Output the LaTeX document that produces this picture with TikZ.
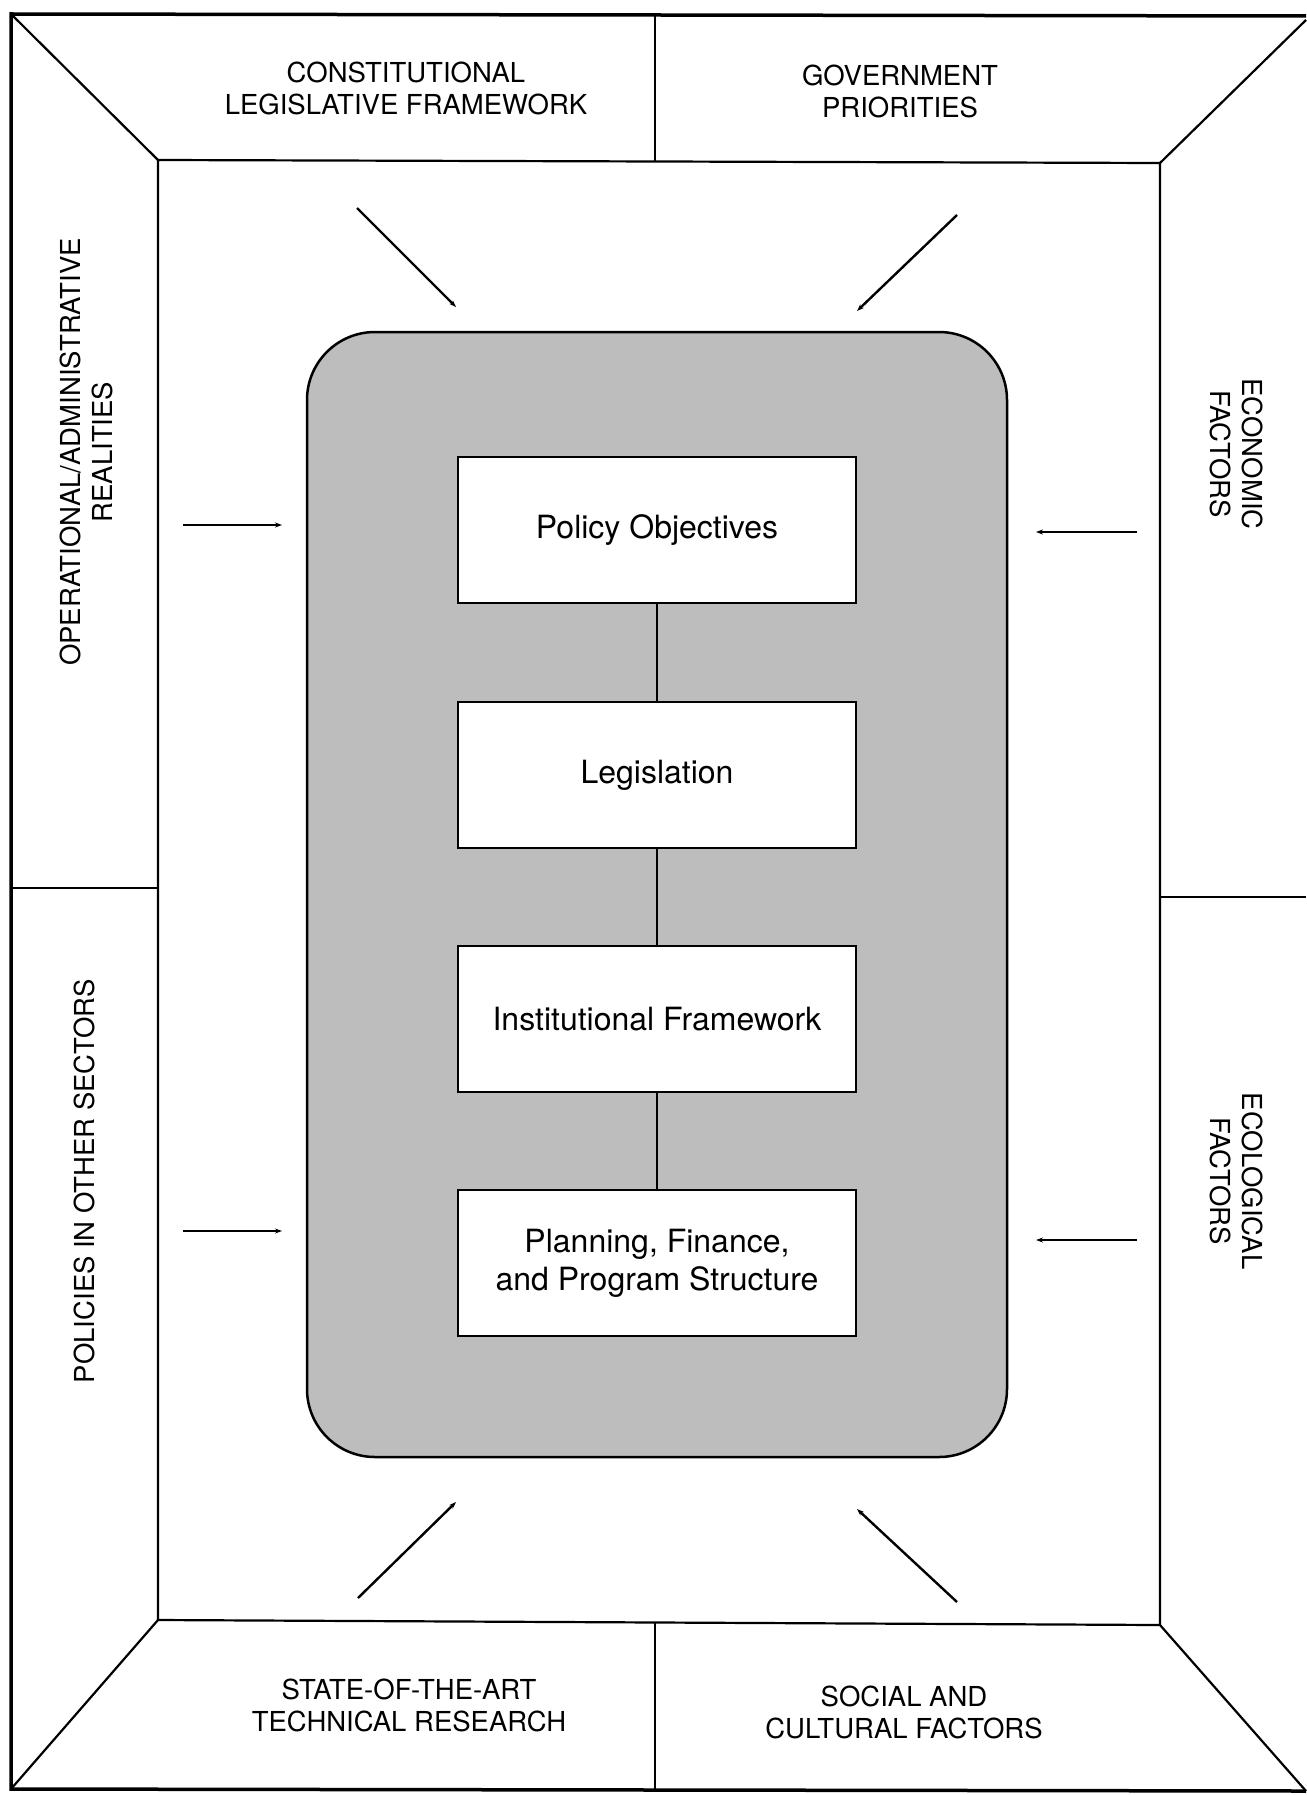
\documentclass[tikz,border=0pt]{standalone}
\usepackage{fontspec}
\setmainfont{TeX Gyre Heros}
\usetikzlibrary{arrows.meta}
\tikzset{
  frameline/.style={line width=2.2pt, line join=miter},
  outerline/.style={line width=3.5pt},
  panellabel/.style={align=center, font=\fontsize{27.5}{32}\selectfont, inner sep=0pt},
  stagebox/.style={draw, line width=2.5pt, fill=white, minimum width=398pt, minimum height=146pt,
                   align=center, font=\fontsize{32}{38}\selectfont, inner sep=0pt},
  joinline/.style={line width=2pt},
  inarrow/.style={line width=2.4pt, -{Stealth[length=7pt,width=5pt]}},
  shade/.style={draw, line width=2.5pt, fill=black!26, rounded corners=68pt}
}
\begin{document}
\begin{tikzpicture}[x=1pt, y=-1pt]
\useasboundingbox (0,0) rectangle (1306,1795);
\fill[white] (0,0) rectangle (1306,1795);

% outer frame (right side runs off the sheet)
\draw[outerline] (1306,16) -- (11,14) -- (11,1789) -- (1306,1791);

% inner rectangle
\coordinate (iTL) at (158,160);
\coordinate (iTR) at (1160,163);
\coordinate (iBL) at (158,1620);
\coordinate (iBR) at (1160,1625);
\draw[frameline] (iTL) -- (iTR) -- (iBR) -- (iBL) -- cycle;

% corner diagonals
\draw[frameline] (11,14) -- (iTL);
\draw[frameline] (1306,20) -- (iTR);
\draw[frameline] (11,1789) -- (iBL);
\draw[frameline] (1306,1791) -- (iBR);

% panel dividers
\draw[frameline] (655,15) -- (655,161);
\draw[frameline] (655,1623) -- (655,1790);
\draw[frameline] (11,888) -- (158,888);
\draw[frameline] (1160,897) -- (1306,897);

% panel labels
\node[panellabel] (constit) at (406,88) {CONSTITUTIONAL\\LEGISLATIVE FRAMEWORK};
\node[panellabel] (govt) at (900,91) {GOVERNMENT\\PRIORITIES};
\node[panellabel, rotate=90] (oper) at (86,452) {OPERATIONAL/ADMINISTRATIVE\\REALITIES};
\node[panellabel, rotate=90] (policies) at (84,1181) {POLICIES IN OTHER SECTORS};
\node[panellabel, rotate=-90] (econ) at (1237,454) {ECONOMIC\\FACTORS};
\node[panellabel, rotate=-90] (ecol) at (1237,1181) {ECOLOGICAL\\FACTORS};
\node[panellabel] (state) at (409,1705) {STATE-OF-THE-ART\\TECHNICAL RESEARCH};
\node[panellabel] (social) at (904,1712) {SOCIAL AND\\CULTURAL FACTORS};

% shaded core
\draw[shade] (307,332) rectangle (1007,1457);

% stage boxes
\node[stagebox] (policy) at (657,530) {\raisebox{-4pt}{Policy Objectives}};
\node[stagebox] (legis) at (657,775) {\raisebox{-4pt}{Legislation}};
\node[stagebox] (inst) at (657,1019) {Institutional Framework};
\node[stagebox] (plan) at (657,1263) {Planning, Finance,\\and Program Structure};

\draw[joinline] (policy) -- (legis);
\draw[joinline] (legis) -- (inst);
\draw[joinline] (inst) -- (plan);

% influence arrows
\coordinate (a1s) at (357,208);  \coordinate (a1e) at (456,307);
\coordinate (a2s) at (957,215);  \coordinate (a2e) at (857,311);
\coordinate (a3s) at (183,525);  \coordinate (a3e) at (282,525);
\coordinate (a4s) at (1137,532); \coordinate (a4e) at (1036,532);
\coordinate (a5s) at (183,1231); \coordinate (a5e) at (282,1231);
\coordinate (a6s) at (1137,1240);\coordinate (a6e) at (1036,1240);
\coordinate (a7s) at (358,1598); \coordinate (a7e) at (456,1502);
\coordinate (a8s) at (957,1602); \coordinate (a8e) at (857,1509);
\draw[inarrow] (a1s) -- (a1e);
\draw[inarrow] (a2s) -- (a2e);
\draw[inarrow] (a3s) -- (a3e);
\draw[inarrow] (a4s) -- (a4e);
\draw[inarrow] (a5s) -- (a5e);
\draw[inarrow] (a6s) -- (a6e);
\draw[inarrow] (a7s) -- (a7e);
\draw[inarrow] (a8s) -- (a8e);
\end{tikzpicture}
\end{document}
